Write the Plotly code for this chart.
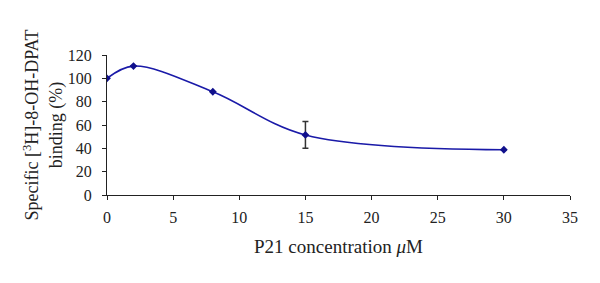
import plotly.graph_objects as go

conc = [0, 2, 8, 15, 30]
binding = [100, 110.5, 88.5, 51.5, 38.8]
err = [0, 0, 0, 11.5, 0]

fig = go.Figure()
fig.add_trace(go.Scatter(
    x=conc, y=binding, mode="lines",
    line=dict(color="#1a1aa8", width=1.6, shape="spline", smoothing=1.0),
    hoverinfo="skip", showlegend=False))
fig.add_trace(go.Scatter(
    x=conc, y=binding, mode="markers",
    marker=dict(symbol="diamond", size=6, color="#10108c"),
    error_y=dict(type="data", array=err, visible=True, color="#333333", thickness=1.5, width=3),
    showlegend=False))

font_family = "Liberation Serif, Times New Roman, serif"
fig.update_layout(
    width=600, height=283,
    margin=dict(l=107, r=30, t=55, b=88),
    paper_bgcolor="white", plot_bgcolor="white",
    font=dict(family=font_family, size=16, color="#222222"),
    xaxis=dict(range=[0, 35], tickvals=[0, 5, 10, 15, 20, 25, 30, 35], automargin=False,
               showgrid=False, zeroline=False, showline=True, linecolor="#222222", linewidth=1.3,
               ticks="outside", ticklen=4, tickcolor="#222222", ticklabelstandoff=4,
               title=dict(text="P21 concentration <i>μ</i>M", standoff=14)),
    yaxis=dict(range=[0, 120], tickvals=[0, 20, 40, 60, 80, 100, 120], automargin=False,
               showgrid=False, zeroline=False, showline=True, linecolor="#222222", linewidth=1.3,
               ticks="outside", ticklen=4, tickcolor="#222222", ticklabelstandoff=7,
               title=dict(text="Specific [<sup>3</sup>H]-8-OH-DPAT<br>binding (%)", standoff=0,
                          font=dict(size=18))),
)
fig.write_html("out.html", post_script="document.body.style.margin='0';",
               config={"displayModeBar": False})
